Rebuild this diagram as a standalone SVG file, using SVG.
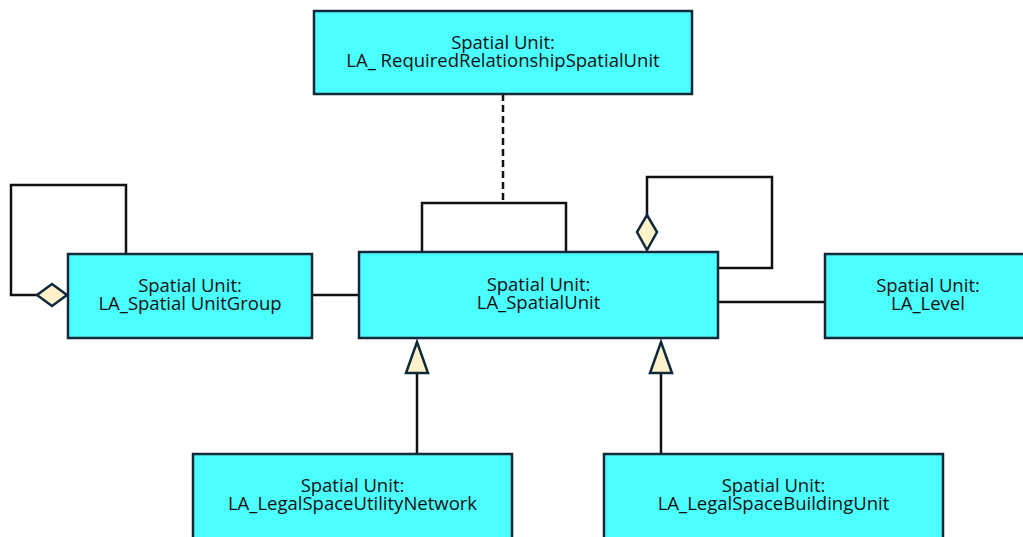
<svg xmlns="http://www.w3.org/2000/svg" width="1023" height="537" viewBox="0 0 1023 537">
<style>
.box{fill:#4cffff;stroke:#10293a;stroke-width:2.5}
.lbl{font-family:"Open Sans","Noto Sans",sans-serif;font-size:18.5px;fill:#111;text-anchor:middle}
.ln{fill:none;stroke:#111;stroke-width:2.5}
.dash{fill:none;stroke:#111;stroke-width:2.5;stroke-dasharray:7 4}
.head{fill:#fff1c9;stroke:#10293a;stroke-width:2.5;stroke-linejoin:miter}
</style>
<rect width="1023" height="537" fill="#fff"/>
<g id="connectors">
<path class="dash" d="M503 94 V203"/>
<path class="ln" d="M422 252 V203 H566 V252"/>
<path class="ln" d="M126 254 V185 H11 V295 H37"/>
<path class="ln" d="M312 295 H359"/>
<path class="ln" d="M647 215 V177 H772 V268 H718"/>
<path class="ln" d="M718 302 H825"/>
<path class="ln" d="M417 454 V373"/>
<path class="ln" d="M661 454 V373"/>
<polygon class="head" points="37,295 52,284 67,295 52,306"/>
<polygon class="head" points="647,215 657,232 647,250 637,232"/>
<polygon class="head" points="417,342 428,373 406,373"/>
<polygon class="head" points="661,342 672,373 650,373"/>
</g>
<g id="node-required">
<rect class="box" x="314" y="11" width="378" height="83"/>
<text class="lbl" x="503" y="49">Spatial Unit:<tspan x="503" dy="18">LA_ RequiredRelationshipSpatialUnit</tspan></text>
</g>
<g id="node-group">
<rect class="box" x="68" y="254" width="244" height="84"/>
<text class="lbl" x="190" y="292">Spatial Unit:<tspan x="190" dy="18">LA_Spatial UnitGroup</tspan></text>
</g>
<g id="node-spatialunit">
<rect class="box" x="359" y="252" width="359" height="86"/>
<text class="lbl" x="538.5" y="291">Spatial Unit:<tspan x="538.5" dy="18">LA_SpatialUnit</tspan></text>
</g>
<g id="node-level">
<rect class="box" x="825" y="254" width="206" height="84"/>
<text class="lbl" x="928" y="292">Spatial Unit:<tspan x="928" dy="18">LA_Level</tspan></text>
</g>
<g id="node-utility">
<rect class="box" x="193" y="454" width="319" height="100"/>
<text class="lbl" x="352.5" y="492">Spatial Unit:<tspan x="352.5" dy="18">LA_LegalSpaceUtilityNetwork</tspan></text>
</g>
<g id="node-building">
<rect class="box" x="604" y="454" width="339" height="100"/>
<text class="lbl" x="773.5" y="492">Spatial Unit:<tspan x="773.5" dy="18">LA_LegalSpaceBuildingUnit</tspan></text>
</g>
</svg>
